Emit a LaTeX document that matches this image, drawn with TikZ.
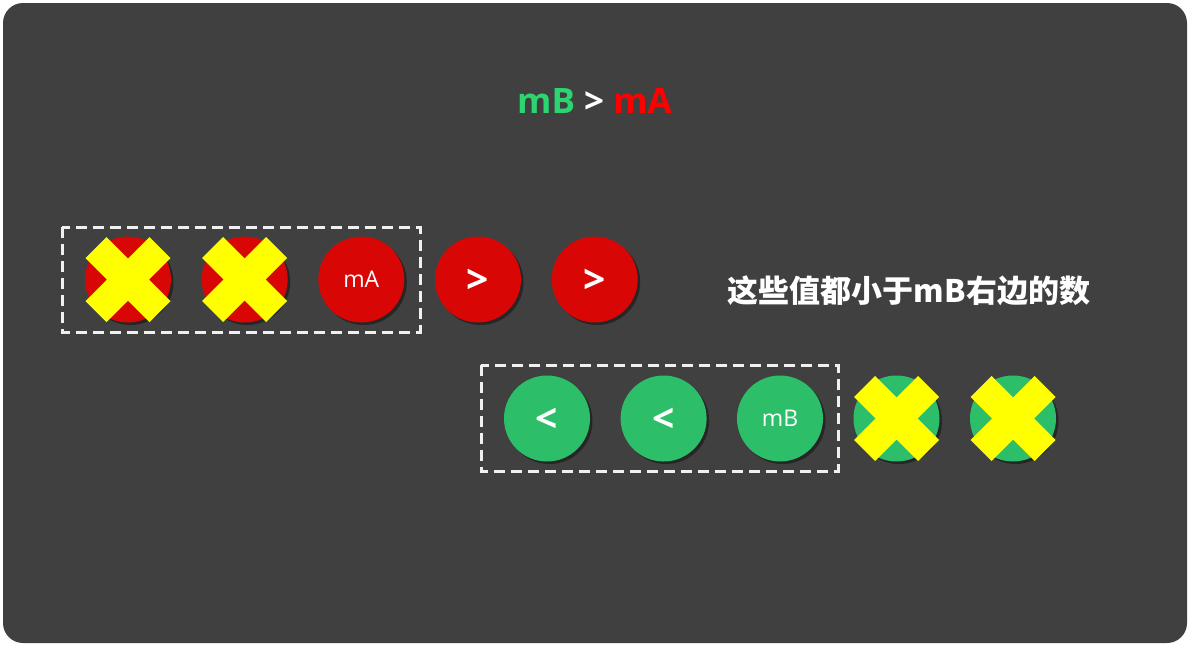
\documentclass[tikz,border=0pt]{standalone}
\usepackage{fontspec}
\setmainfont{Open Sans}
\newfontfamily\cjk{Noto Sans CJK SC}
\usetikzlibrary{shadows}
\definecolor{bg}{RGB}{64,64,64}
\definecolor{cred}{RGB}{217,6,6}
\definecolor{cgreen}{RGB}{44,190,104}
\definecolor{tgreen}{RGB}{43,213,111}
\definecolor{tred}{RGB}{255,0,0}
\definecolor{xyellow}{RGB}{255,255,0}
\definecolor{dashwhite}{RGB}{240,240,240}
\tikzset{
  ball/.style={circle, minimum size=86pt, inner sep=0pt, text=white,
    drop shadow={shadow xshift=2.5pt, shadow yshift=-2.5pt, opacity=0.4, fill=black}},
  redball/.style={ball, fill=cred},
  greenball/.style={ball, fill=cgreen},
  smalllbl/.style={font=\fontsize{23}{27}\selectfont},
  biglbl/.style={font=\bfseries\fontsize{39}{44}\selectfont, text depth=0pt},
  groupbox/.style={draw=dashwhite, line width=3pt, dash pattern=on 11pt off 6pt},
  cross/.style={fill=xyellow}
}
\newcommand{\crossat}[1]{%
  \path[cross, shift={(#1.center)}]
    (-42.5,-21.5) -- (-21.5,-42.5) -- (0,-21) -- (21.5,-42.5) -- (42.5,-21.5)
    -- (21,0) -- (42.5,21.5) -- (21.5,42.5) -- (0,21) -- (-21.5,42.5)
    -- (-42.5,21.5) -- (-21,0) -- cycle;}
\begin{document}
\begin{tikzpicture}[x=1pt,y=-1pt]
\useasboundingbox (0,0) rectangle (1190,646);
\fill[white] (0,0) rectangle (1190,646);
\fill[bg, rounded corners=20pt] (3,3) rectangle (1187,643);

\node[font=\bfseries\fontsize{35}{40}\selectfont, text=white] (title) at (594.5,101)
  {\textcolor{tgreen}{mB} > \textcolor{tred}{mA}};

% boxes
\draw[groupbox] (62,227) rectangle (420,332) coordinate (boxA);
\draw[groupbox] (481,365) rectangle (838,471) coordinate (boxB);

% red row
\node[redball] (r1) at (128,279.5) {};
\node[redball] (r2) at (244.7,279.5) {};
\node[redball, smalllbl] (r3) at (361.3,279.5) {mA};
\node[redball] (r4) at (478,279.5) {};
\node[redball] (r5) at (594.7,279.5) {};
\node[biglbl, text=white] (r4l) at ([yshift=-2pt]r4.center) {>};
\node[biglbl, text=white] (r5l) at ([yshift=-2pt]r5.center) {>};

% green row
\node[greenball] (g1) at (547,418.5) {};
\node[greenball] (g2) at (663.6,418.5) {};
\node[greenball, smalllbl] (g3) at (780,418.5) {mB};
\node[greenball] (g4) at (896.5,418.5) {};
\node[greenball] (g5) at (1013,418.5) {};
\node[biglbl, text=white] (g1l) at ([yshift=-2pt]g1.center) {<};
\node[biglbl, text=white] (g2l) at ([yshift=-2pt]g2.center) {<};

\crossat{r1}
\crossat{r2}
\crossat{g4}
\crossat{g5}

\node[font=\cjk\bfseries\fontsize{31}{36}\selectfont, text=white] (note) at (909,291)
  {这些值都小于mB右边的数};
\end{tikzpicture}
\end{document}
